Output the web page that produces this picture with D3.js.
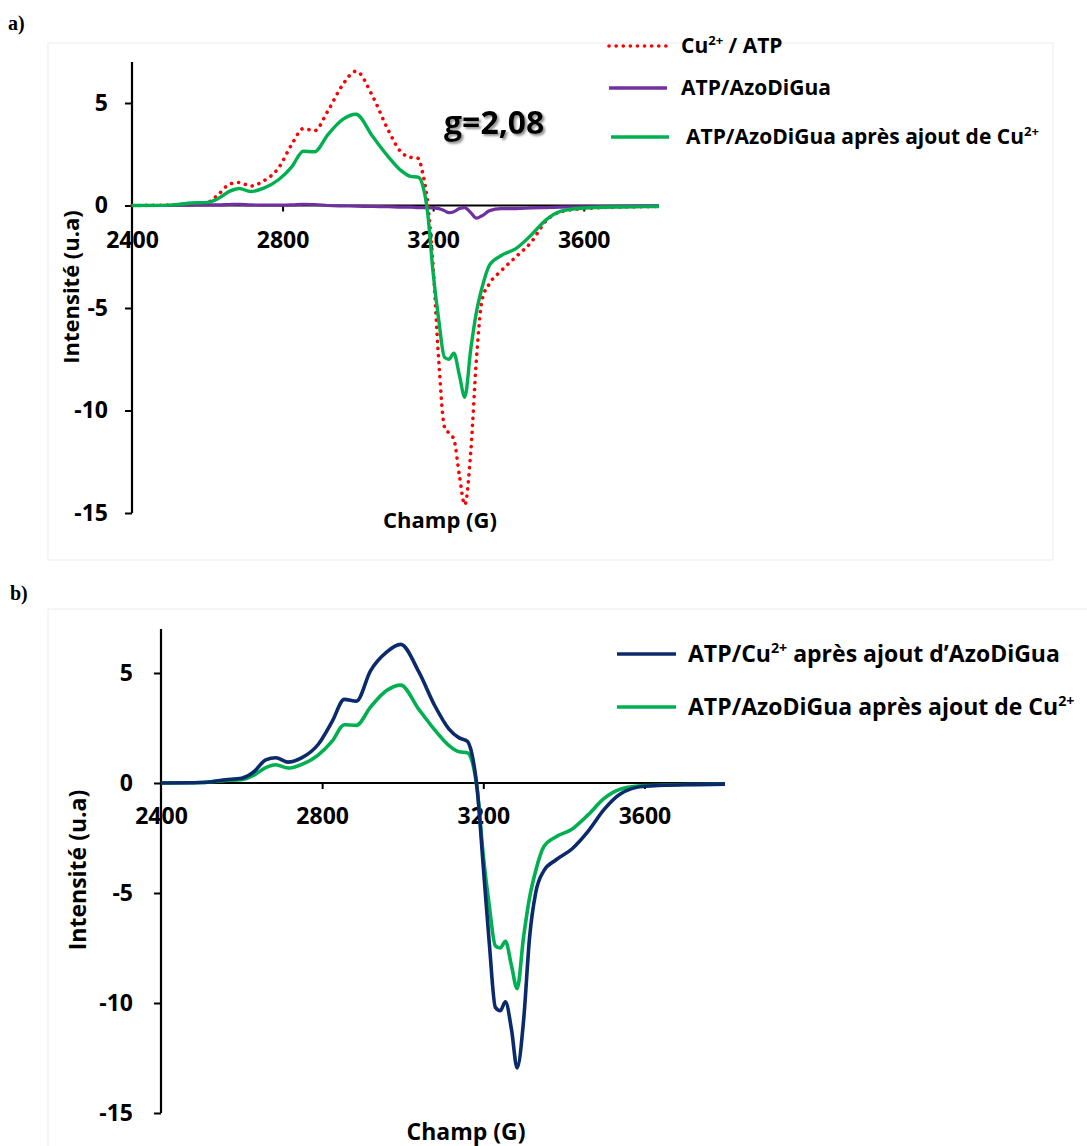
<!DOCTYPE html>
<html>
<head>
<meta charset="utf-8">
<script src="https://cdn.jsdelivr.net/npm/d3@7"></script>
<style>
body { margin: 0; background: #fff; }
text { font-family: "Open Sans", sans-serif; font-weight: 700; fill: #000; }
</style>
</head>
<body>
<script>
// champ magnetique (G)
var field = [2400, 2500, 2560, 2600, 2630, 2660, 2685, 2715, 2750, 2790, 2825, 2855, 2885, 2920, 2960, 2995,
  3040, 3080, 3115, 3140, 3160, 3172, 3185, 3200, 3215, 3230, 3242, 3255, 3270, 3284, 3300, 3315,
  3330, 3350, 3380, 3420, 3460, 3500, 3540, 3600, 3700, 3800];

// Cu2+ / ATP
var cuAtp = [0, 0.02, 0.1, 0.15, 0.55, 1.05, 1.12, 0.95, 1.2, 1.85, 3.0, 3.75, 3.65, 4.6, 5.9, 6.55,
  5.3, 3.7, 2.6, 2.35, 2.3, 1.6, 0.2, -3.0, -7.6, -10.8, -11.1, -11.4, -13.2, -14.6, -12.0, -7.5,
  -4.6, -3.8, -3.2, -2.5, -1.8, -0.75, -0.3, -0.15, -0.08, -0.05];

// ATP/AzoDiGua
var atpAzo = [0, 0, 0.02, 0.03, 0.03, 0.05, 0.06, 0.03, 0.02, 0.02, 0.03, 0.06, 0.05, 0.0, -0.02, -0.03,
  -0.05, -0.06, -0.08, -0.08, -0.1, -0.1, -0.1, -0.12, -0.15, -0.25, -0.35, -0.3, -0.15, -0.1, -0.35, -0.62,
  -0.5, -0.25, -0.15, -0.15, -0.12, -0.1, -0.08, -0.06, -0.04, -0.03];

// ATP/AzoDiGua apres ajout de Cu2+
var atpAzoCu = [0, 0.02, 0.12, 0.15, 0.35, 0.7, 0.83, 0.68, 0.85, 1.27, 1.9, 2.65, 2.62, 3.45, 4.2, 4.45,
  3.35, 2.4, 1.7, 1.42, 1.38, 1.0, -0.3, -3.3, -5.6, -7.4, -7.5, -7.2, -8.3, -9.35, -7.0, -5.2,
  -4.0, -2.9, -2.45, -2.1, -1.45, -0.7, -0.28, -0.12, -0.07, -0.05];

// ATP/Cu2+ apres ajout d'AzoDiGua
var atpCuAzo = [0, 0.02, 0.15, 0.22, 0.5, 1.05, 1.15, 0.95, 1.15, 1.75, 2.8, 3.8, 3.72, 5.1, 5.95, 6.3,
  5.05, 3.5, 2.45, 2.05, 1.9, 1.3, -0.3, -3.8, -7.3, -10.2, -10.35, -9.95, -11.2, -12.95, -10.8, -7.0,
  -5.0, -4.0, -3.5, -3.0, -2.2, -1.2, -0.5, -0.15, -0.08, -0.05];

var xTicks = [2400, 2800, 3200, 3600];
var yTicks = [-15, -10, -5, 0, 5];
var xDomain = [2400, 3800];
var yDomain = [-15, 7];

var svg = d3.select("body").append("svg")
  .attr("width", 1087).attr("height", 1146);

svg.append("defs").append("filter").attr("id", "shadow")
  .attr("x", "-10%").attr("y", "-20%").attr("width", "130%").attr("height", "150%")
  .append("feDropShadow")
  .attr("dx", 2).attr("dy", 2).attr("stdDeviation", 1.2)
  .attr("flood-color", "#777").attr("flood-opacity", 0.8);

// texte avec exposants : "Cu{2+}"
function richText(sel, str, fs) {
  var parts = str.split(/(\{[^}]*\})/);
  var up = false;
  parts.forEach(function(p) {
    if (p === "") return;
    if (p[0] === "{") {
      sel.append("tspan").style("font-size", (fs * 0.62) + "px").attr("dy", -fs * 0.38).text(p.slice(1, -1));
      up = true;
    } else {
      var t = sel.append("tspan").text(p);
      if (up) { t.attr("dy", fs * 0.38); up = false; }
    }
  });
}

function drawPanel(cfg) {
  var g = svg.append("g");

  g.append("rect")
    .attr("x", cfg.box[0]).attr("y", cfg.box[1])
    .attr("width", cfg.box[2]).attr("height", cfg.box[3])
    .attr("fill", "none").attr("stroke", "#ebebeb").attr("stroke-width", 1);

  svg.append("text")
    .attr("x", cfg.tag[0]).attr("y", cfg.tag[1])
    .style("font-family", "'Liberation Serif', serif")
    .style("font-size", "20px").text(cfg.tagText);

  var x = d3.scaleLinear().domain(xDomain).range(cfg.xr);
  var y = d3.scaleLinear().domain(yDomain).range(cfg.yr);
  var fmt = function(d) { return String(d); };

  var xAxis = g.append("g")
    .attr("transform", "translate(0," + y(0) + ")")
    .call(d3.axisBottom(x).tickValues(xTicks).tickFormat(fmt).tickSize(6).tickPadding(cfg.xPad).tickSizeOuter(0));
  var yAxis = g.append("g")
    .attr("transform", "translate(" + x(2400) + ",0)")
    .call(d3.axisLeft(y).tickValues(yTicks).tickFormat(fmt).tickSize(7).tickPadding(cfg.yPad).tickSizeOuter(0));

  [xAxis, yAxis].forEach(function(a) {
    a.select(".domain").attr("stroke", "#000").attr("stroke-width", 2.2);
    a.selectAll(".tick line").attr("stroke", "#000").attr("stroke-width", 2);
    a.selectAll(".tick text")
      .style("font-size", cfg.tickFs + "px")
      .style("font-family", "'Open Sans', sans-serif").style("font-weight", 700).attr("fill", "#000");
  });
  yAxis.select(".domain").attr("d", "M0," + y(7) + "V" + y(-15));
  xAxis.select(".domain").attr("d", "M" + x(2400) + ",0H" + x(3800));
  xAxis.selectAll(".tick").filter(function(d) { return d === 2400; }).select("line").remove();

  var line = d3.line()
    .x(function(d, i) { return x(field[i]); })
    .y(function(d) { return y(d); })
    .curve(d3.curveMonotoneX);

  cfg.series.forEach(function(s) {
    var p = g.append("path").datum(s.values)
      .attr("d", line)
      .attr("fill", "none")
      .attr("stroke", s.color)
      .attr("stroke-width", s.width)
      .attr("stroke-linejoin", "round");
    if (s.dotted) p.attr("stroke-dasharray", "0.1 7").attr("stroke-linecap", "round");
  });

  g.append("text")
    .attr("transform", "translate(" + cfg.yTitle[0] + "," + cfg.yTitle[1] + ") rotate(-90)")
    .attr("text-anchor", "middle").attr("dy", "0.35em")
    .style("font-size", cfg.titleFs + "px").text("Intensité (u.a)");

  g.append("text")
    .attr("x", cfg.xTitle[0]).attr("y", cfg.xTitle[1])
    .attr("text-anchor", "middle").attr("dy", "0.35em")
    .style("font-size", cfg.titleFs + "px").text("Champ (G)");

  cfg.legend.forEach(function(l) {
    var ln = g.append("line")
      .attr("x1", l.x1).attr("x2", l.x2).attr("y1", l.y).attr("y2", l.y)
      .attr("stroke", l.color).attr("stroke-width", l.width);
    if (l.dotted) ln.attr("stroke-dasharray", "0.1 7").attr("stroke-linecap", "round");
    var t = g.append("text").attr("x", l.tx).attr("y", l.y).attr("dy", "0.35em")
      .style("font-size", cfg.legFs + "px");
    richText(t, l.label, cfg.legFs);
  });

  return { g: g, x: x, y: y };
}

var red = "#ff0000", purple = "#7030a0", green = "#00b050", navy = "#0b2a6b";

var pa = drawPanel({
  box: [48, 43, 1005, 517],
  tag: [8, 30], tagText: "a)",
  xr: [132, 659], yr: [513, 62],
  xPad: 20, yPad: 17, tickFs: 23, titleFs: 22, legFs: 21,
  yTitle: [71, 287], xTitle: [440, 520],
  series: [
    { values: atpAzo, color: purple, width: 3.2 },
    { values: cuAtp, color: red, width: 3.6, dotted: true },
    { values: atpAzoCu, color: green, width: 3.4 }
  ],
  legend: [
    { x1: 609, x2: 667, y: 46, tx: 681, color: red, width: 3.6, dotted: true, label: "Cu{2+} / ATP" },
    { x1: 609, x2: 667, y: 88, tx: 681, color: purple, width: 3.4, label: "ATP/AzoDiGua" },
    { x1: 611, x2: 669, y: 137, tx: 686, color: green, width: 3.4, label: "ATP/AzoDiGua après ajout de Cu{2+}" }
  ]
});

pa.g.append("text")
  .attr("x", 444).attr("y", 134)
  .style("font-size", "32px")
  .attr("filter", "url(#shadow)")
  .text("g=2,08");

drawPanel({
  box: [48, 609, 1060, 560],
  tag: [10, 600], tagText: "b)",
  xr: [161, 725], yr: [1113, 629],
  xPad: 19, yPad: 21, tickFs: 23, titleFs: 23, legFs: 23,
  yTitle: [78, 870], xTitle: [466, 1132],
  series: [
    { values: atpAzoCu, color: green, width: 3.6 },
    { values: atpCuAzo, color: navy, width: 3.6 }
  ],
  legend: [
    { x1: 617, x2: 676, y: 654, tx: 688, color: navy, width: 3.6, label: "ATP/Cu{2+} après ajout d’AzoDiGua" },
    { x1: 617, x2: 676, y: 707, tx: 688, color: green, width: 3.6, label: "ATP/AzoDiGua après ajout de Cu{2+}" }
  ]
});
</script>
</body>
</html>
